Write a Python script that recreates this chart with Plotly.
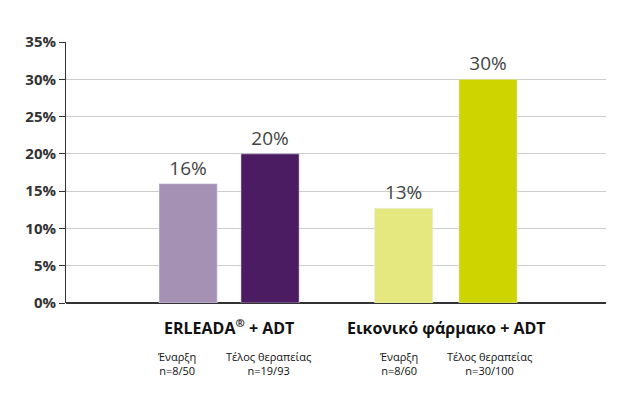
import plotly.graph_objects as go

positions = [1, 2, 3.63, 4.66]
values = [16, 20, 12.7, 30]
labels = ["16%", "20%", "13%", "30%"]
colors = ["#a491b4", "#4b1c62", "#e4e87f", "#cdd400"]
group_names = ["ERLEADA<sup>®</sup> + ADT", "Εικονικό φάρμακο + ADT"]
group_pos = [1.5, 4.15]
sub_labels = ["Έναρξη<br>n=8/50", "Τέλος θεραπείας<br>n=19/93", "Έναρξη<br>n=8/60", "Τέλος θεραπείας<br>n=30/100"]
sub_pos = [0.86, 1.98, 3.57, 4.68]
ticks = [0, 5, 10, 15, 20, 25, 30, 35]

fig = go.Figure(go.Bar(x=positions, y=values, width=0.71, marker_color=colors,
                       text=labels, textposition="outside", cliponaxis=False,
                       textfont=dict(size=19, color="#444444")))
for n, p in zip(group_names, group_pos):
    fig.add_annotation(x=p, y=0, yref="paper", yshift=-38, text="<b>"+n+"</b>", showarrow=False,
                       font=dict(size=16, color="#111111"))
for n, p in zip(sub_labels, sub_pos):
    fig.add_annotation(x=p, y=0, yref="paper", yshift=-77, text=n, showarrow=False,
                       font=dict(size=11, color="#111111"), align="center")
fig.update_layout(width=636, height=404, margin=dict(l=58, r=38, t=34, b=109),
                  plot_bgcolor="white", paper_bgcolor="white", showlegend=False,
                  font=dict(family="Open Sans"))
fig.update_xaxes(range=[-0.49, 6.1], showticklabels=False, showgrid=False, zeroline=False,
                 automargin=False)
fig.update_yaxes(range=[0, 35], tickvals=ticks, ticktext=[f"<b>{t}%</b>" for t in ticks],
                 gridcolor="#cccccc", zeroline=True, zerolinecolor="#333333", zerolinewidth=1.5,
                 showline=True, linecolor="#333333", ticks="outside", ticklen=6, tickcolor="#333333",
                 tickfont=dict(size=15, color="#333333"), automargin=False)
fig.write_html("out.html")
